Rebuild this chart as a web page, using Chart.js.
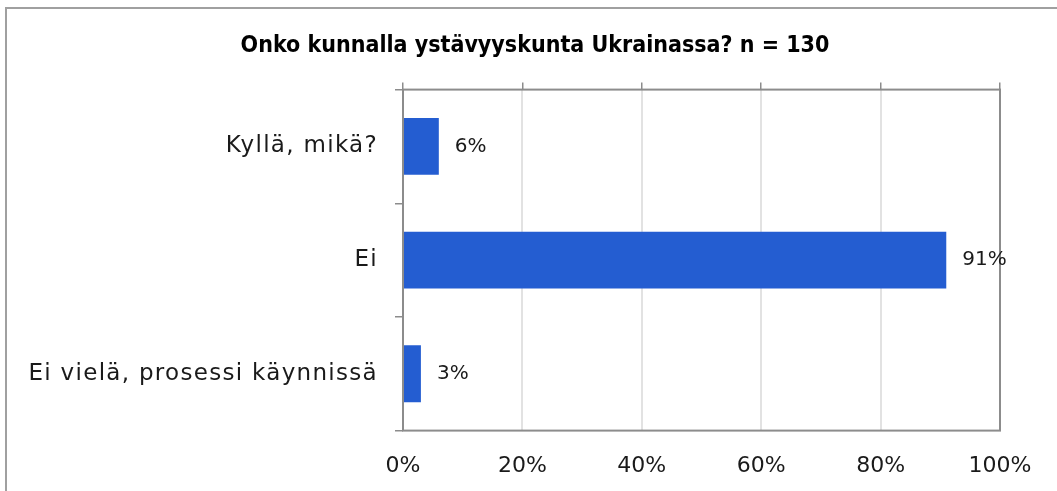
<!DOCTYPE html>
<html>
<head>
<meta charset="utf-8">
<script src="https://cdn.jsdelivr.net/npm/chart.js@4/dist/chart.umd.min.js"></script>
<style>
  html, body { margin: 0; padding: 0; background: #fff; overflow: hidden; }
  #wrap { position: relative; width: 1057px; height: 491px; }
  #frame { position: absolute; left: 5px; top: 7px; width: 1200px; height: 600px; border: 2px solid #a0a0a0; box-sizing: border-box; }
  canvas { position: absolute; left: 0; top: 0; }
</style>
</head>
<body>
<div id="wrap">
  <div id="frame"></div>
  <canvas id="c" width="1057" height="491"></canvas>
</div>
<script>
const titleText = "Onko kunnalla ystävyyskunta Ukrainassa? n = 130";
const categories = ["Kyllä, mikä?", "Ei", "Ei vielä, prosessi käynnissä"];
const values = [6, 91, 3];
const xMin = 0, xMax = 100, xStep = 20;

const FONT = "'DejaVu Sans', sans-serif";
const TITLE_FONT = "'DejaVu Sans Condensed', 'DejaVu Sans', sans-serif";
const CAT_SIZE = 23, CAT_SPACING = '1.3px', CAT_PAD = 17, CAT_TICK = 8;
const Y_EXTRA = 15;      // extra room left of the category labels
const X_RIGHT_PAD = 57;  // room right of the plot for the last tick label

const borderPlugin = {
  id: 'plotBorder',
  afterDatasetsDraw(chart) {
    const a = chart.chartArea, ctx = chart.ctx;
    ctx.save();
    ctx.strokeStyle = '#8c8c8c';
    ctx.lineWidth = 2;
    ctx.strokeRect(a.left, a.top, a.right - a.left, a.bottom - a.top);
    ctx.restore();
  }
};

const labelPlugin = {
  id: 'valueLabels',
  afterDatasetsDraw(chart) {
    const ctx = chart.ctx;
    const meta = chart.getDatasetMeta(0);
    ctx.save();
    ctx.font = "20px " + FONT;
    ctx.fillStyle = '#1a1a1a';
    ctx.textBaseline = 'middle';
    ctx.textAlign = 'left';
    meta.data.forEach((bar, i) => {
      ctx.fillText(values[i] + '%', bar.x + 16, bar.y);
    });
    ctx.restore();
  }
};

// widen category labels slightly with letter spacing
const spacingPlugin = {
  id: 'catSpacing',
  afterLayout(chart) {
    const s = chart.scales.y;
    if (s._wrapped) return;
    const orig = s.drawLabels;
    s.drawLabels = function (area) {
      const ctx = this.ctx;
      ctx.save();
      ctx.letterSpacing = CAT_SPACING;
      orig.call(this, area);
      ctx.restore();
    };
    s._wrapped = true;
  }
};

function fitCategoryAxis(scale) {
  const ctx = scale.ctx;
  ctx.save();
  ctx.font = CAT_SIZE + "px " + FONT;
  ctx.letterSpacing = CAT_SPACING;
  let w = 0;
  categories.forEach(c => { w = Math.max(w, ctx.measureText(c).width); });
  ctx.restore();
  scale.width = Math.ceil(w) + CAT_PAD + CAT_TICK + Y_EXTRA;
}

new Chart(document.getElementById('c'), {
  type: 'bar',
  data: {
    labels: categories,
    datasets: [{
      data: values,
      backgroundColor: '#245dd1',
      borderWidth: 0,
      barPercentage: 0.5,
      categoryPercentage: 1.0
    }]
  },
  options: {
    indexAxis: 'y',
    responsive: false,
    animation: false,
    layout: { padding: { left: 13, right: 0, top: 20, bottom: -10 } },
    plugins: {
      legend: { display: false },
      tooltip: { enabled: false },
      title: {
        display: true,
        text: titleText,
        color: '#000',
        font: { family: TITLE_FONT, size: 23, weight: 'bold' },
        padding: { top: 12, bottom: 23 }
      }
    },
    scales: {
      x: {
        position: 'bottom',
        min: xMin, max: xMax,
        afterFit(scale) { scale.paddingRight = X_RIGHT_PAD; },
        ticks: {
          stepSize: xStep,
          callback: v => v + '%',
          color: '#1a1a1a',
          font: { family: FONT, size: 22 },
          padding: 22
        },
        grid: { color: '#e2e2e2', lineWidth: 2, drawTicks: false },
        border: { display: false }
      },
      x2: {
        position: 'top',
        min: xMin, max: xMax,
        afterFit(scale) { scale.paddingRight = X_RIGHT_PAD; },
        ticks: { stepSize: xStep, display: false },
        grid: { drawOnChartArea: false, color: '#8c8c8c', lineWidth: 1.5, tickLength: 7 },
        border: { display: false }
      },
      y: {
        afterFit: fitCategoryAxis,
        ticks: {
          color: '#1a1a1a',
          font: { family: FONT, size: CAT_SIZE },
          padding: CAT_PAD
        },
        grid: { offset: true, drawOnChartArea: false, color: '#8c8c8c', lineWidth: 1.5, tickLength: CAT_TICK },
        border: { display: false }
      }
    }
  },
  plugins: [borderPlugin, labelPlugin, spacingPlugin]
});
</script>
</body>
</html>
